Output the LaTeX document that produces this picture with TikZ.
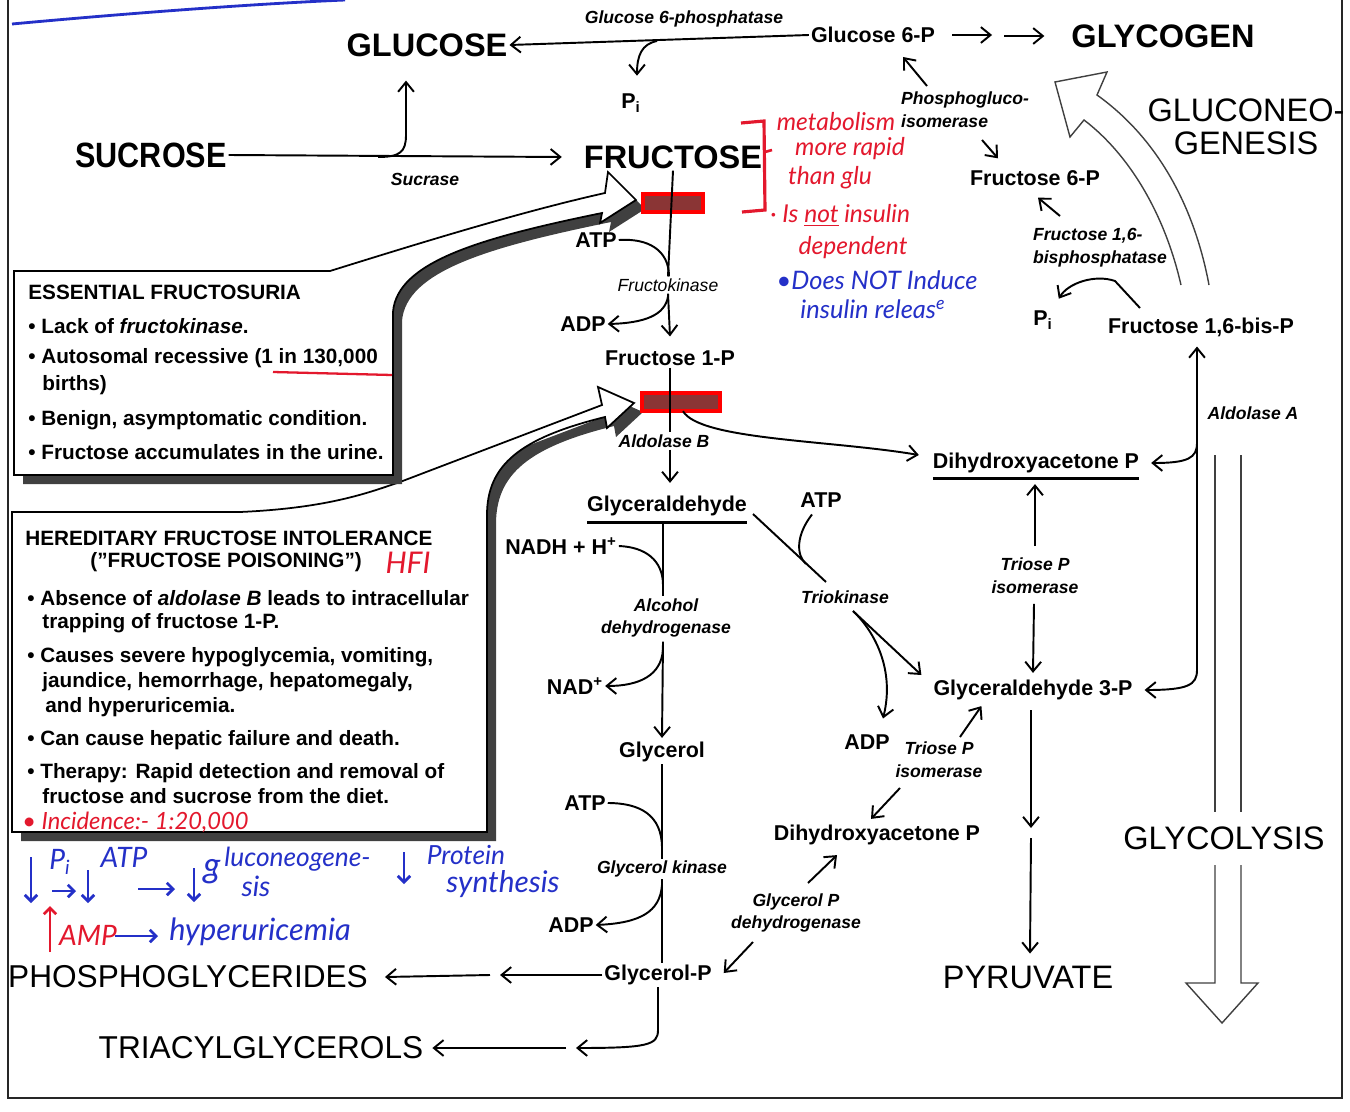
\documentclass[tikz,border=0pt]{standalone}
\usepackage{fontspec}
\setmainfont{Liberation Sans}
\newfontfamily\condfont{Liberation Sans}[FakeStretch=0.87]
\newfontfamily\handfont{Lato}
\usetikzlibrary{arrows.meta,calc}
\definecolor{pen}{HTML}{E3182D}
\definecolor{bpen}{HTML}{2430C8}
\definecolor{blkin}{HTML}{8A3535}
\begin{document}
\begin{tikzpicture}[x=0.02cm,y=0.02cm,
  arr/.style={-{Straight Barb[length=5.5pt,width=9pt]}, line width=1.1pt},
  ln/.style={line width=1.1pt},
  harr/.style={-{Straight Barb[length=3.5pt,width=7pt]}, line width=1.6pt},
  big/.style={font=\fontsize{18.5}{22}\selectfont\bfseries, inner sep=1pt},
  bigr/.style={font=\fontsize{18.5}{19}\selectfont, inner sep=1pt, align=center},
  mid/.style={font=\fontsize{12.2}{14}\selectfont\bfseries, inner sep=1pt},
  enz/.style={font=\fontsize{10}{13}\selectfont\bfseries\itshape, inner sep=1pt, align=center},
  boxt/.style={font=\fontsize{11.8}{14}\selectfont\bfseries, inner sep=0pt, anchor=west},
  hand/.style={font=\handfont\itshape\fontsize{14}{16}\selectfont, inner sep=0pt},
  bhand/.style={font=\handfont\itshape\fontsize{16}{18}\selectfont, inner sep=0pt, text=bpen},
  blocker/.style={draw=red, line width=2.5pt, fill=blkin, minimum height=0.36cm, inner sep=0pt},
  hollow/.style={line width=0.8pt, black!75},
]
\fill[white] (0,0) rectangle (1350,-1112);
\useasboundingbox (0,0) rectangle (1350,-1112);

% frame and top pen line
\draw[line width=1.2pt, black!85] (8,0) -- (8,-1098) -- (1342,-1098) -- (1342,0);
\draw[bpen, line width=1.6pt] (12,-24) .. controls (120,-14) and (250,-4) .. (345,0);

% HFI box with its big arrow
\fill[black!75, shift={(9,-9)}] (240,-512) .. controls (330,-508) and (370,-492) .. (400,-482) -- (602,-405) -- (598,-387) -- (634,-403) -- (607,-428) -- (605,-417) .. controls (520,-438) and (487,-465) .. (487,-515) -- (487,-832) -- (12,-832) -- (12,-512) -- cycle;
\draw[fill=white, line width=1pt] (240,-512) .. controls (330,-508) and (370,-492) .. (400,-482) -- (602,-405) -- (598,-387) -- (634,-403) -- (607,-428) -- (605,-417) .. controls (520,-438) and (487,-465) .. (487,-515) -- (487,-832) -- (12,-832) -- (12,-512) -- cycle;

% Essential fructosuria box with its big arrow
\fill[black!75, shift={(9,-9)}] (330,-271) .. controls (420,-243) and (520,-212) .. (605,-193) -- (608,-172) -- (636,-200) -- (600,-223) -- (602,-213) .. controls (480,-238) and (397,-262) .. (393,-312) -- (393,-475) -- (14,-475) -- (14,-271) -- cycle;
\draw[fill=white, line width=1pt] (330,-271) .. controls (420,-243) and (520,-212) .. (605,-193) -- (608,-172) -- (636,-200) -- (600,-223) -- (602,-213) .. controls (480,-238) and (397,-262) .. (393,-312) -- (393,-475) -- (14,-475) -- (14,-271) -- cycle;

% box texts
\node[boxt] (ef) at (28,-292) {ESSENTIAL FRUCTOSURIA};
\node[boxt] (ef1) at (28,-326) {\textbullet\ Lack of \textit{fructokinase}.};
\node[boxt] (ef2) at (28,-358) {\textbullet\ Autosomal recessive (1 in 130,000};
\node[boxt] (ef2b) at (42,-385) {births)};
\node[boxt] (ef3) at (28,-420) {\textbullet\ Benign, asymptomatic condition.};
\node[boxt] (ef4) at (28,-452) {\textbullet\ Fructose accumulates in the urine.};
\draw[pen, line width=1.3pt] (273,-372) -- (392,-375);

\node[boxt] (hf) at (25,-538) {HEREDITARY FRUCTOSE INTOLERANCE};
\node[boxt] (hf0) at (90,-562) {("FRUCTOSE POISONING")};
\node[hand, text=pen, font=\handfont\itshape\fontsize{17}{19}\selectfont] (hfi) at (408,-563) {HFI};
\node[boxt] (hf1) at (27,-598) {\textbullet\ Absence of \textit{aldolase B} leads to intracellular};
\node[boxt] (hf1b) at (42,-623) {trapping of fructose 1-P.};
\node[boxt] (hf2) at (27,-657) {\textbullet\ Causes severe hypoglycemia, vomiting,};
\node[boxt] (hf2b) at (42,-682) {jaundice, hemorrhage, hepatomegaly,};
\node[boxt] (hf2c) at (45,-707) {and hyperuricemia.};
\node[boxt] (hf3) at (27,-740) {\textbullet\ Can cause hepatic failure and death.};
\node[boxt] (hf4) at (27,-773) {\textbullet\ Therapy: Rapid detection and removal of};
\node[boxt] (hf4b) at (42,-796) {fructose and sucrose from the diet.};
\node[hand, text=pen, anchor=west, font=\handfont\itshape\fontsize{13.5}{15}\selectfont] (inc) at (22,-822) {\textbullet\ Incidence:- 1:20,000};

% pathway nodes
\node[big] (glucose) at (427,-45) {GLUCOSE};
\node[big, font=\condfont\fontsize{20}{24}\selectfont\bfseries] (sucrose) at (151,-155) {SUCROSE};
\node[big] (fructose) at (673,-157) {FRUCTOSE};
\node[big] (glycogen) at (1163,-36) {GLYCOGEN};
\node[mid] (g6p) at (873,-35) {Glucose 6-P};
\node[enz] (g6pase) at (684,-19) {Glucose 6-phosphatase};
\node[mid] (pi1) at (631,-103) {P\textsubscript{i}};
\node[enz] (sucrase) at (425,-179) {Sucrase};
\node[bigr] (gng) at (1246,-127) {GLUCONEO-\\GENESIS};
\node[enz, align=left, anchor=west] (pgi) at (899,-110) {Phosphogluco-\\isomerase};
\node[mid] (f6p) at (1035,-178) {Fructose 6-P};
\node[enz, align=left, anchor=west] (fbpase) at (1031,-248) {Fructose 1,6-\\bisphosphatase};
\node[mid] (pi2) at (1043,-320) {P\textsubscript{i}};
\node[mid] (f16bp) at (1201,-327) {Fructose 1,6-bis-P};
\node[enz] (aldA) at (1253,-413) {Aldolase A};
\node[mid] (dhap1) at (1036,-463) {Dihydroxyacetone P};
\node[enz] (tpi1) at (1035,-576) {Triose P\\isomerase};
\node[mid] (g3p) at (1033,-690) {Glyceraldehyde 3-P};
\node[bigr] (glycolysis) at (1224,-838) {GLYCOLYSIS};
\node[bigr] (pyruvate) at (1028,-977) {PYRUVATE};
\node[blocker, minimum width=1.2cm] (blk1) at (673,-203) {};
\node[blocker, minimum width=1.56cm] (blk2) at (681,-402) {};
\node[mid] (atp1) at (596,-240) {ATP};
\node[enz, font=\fontsize{10}{13}\selectfont\itshape] (fk) at (668,-285) {Fructokinase};
\node[mid] (adp1) at (583,-324) {ADP};
\node[mid] (f1p) at (670,-358) {Fructose 1-P};
\node[enz] (aldB) at (664,-441) {Aldolase B};
\node[mid] (glyald) at (667,-506) {Glyceraldehyde};
\node[mid] (nadh) at (561,-546) {NADH + H\textsuperscript{+}};
\node[enz] (adh) at (666,-618) {Alcohol\\dehydrogenase};
\node[mid] (nad) at (575,-686) {NAD\textsuperscript{+}};
\node[mid] (glycerol) at (662,-752) {Glycerol};
\node[mid] (atp3) at (585,-803) {ATP};
\node[enz] (gk) at (662,-869) {Glycerol kinase};
\node[mid] (adp3) at (571,-925) {ADP};
\node[mid] (glyp) at (658,-975) {Glycerol-P};
\node[bigr, font=\fontsize{18}{20}\selectfont] (phospho) at (188,-977) {PHOSPHOGLYCERIDES};
\node[bigr, font=\fontsize{18}{20}\selectfont] (triacyl) at (261,-1048) {TRIACYLGLYCEROLS};
\node[mid] (atp2) at (821,-500) {ATP};
\node[enz] (trio) at (845,-597) {Triokinase};
\node[mid] (adp2) at (867,-742) {ADP};
\node[enz] (tpi2) at (939,-760) {Triose P\\isomerase};
\node[mid] (dhap2) at (877,-835) {Dihydroxyacetone P};
\node[enz] (gpdh) at (796,-913) {Glycerol P\\dehydrogenase};

% top connectors
\draw[arr] (g6p.west) -- (glucose.east);
\coordinate (pj) at (657,-41);
\draw[arr] (pj) .. controls (642,-44) and (637,-55) .. ($(pi1.north)+(6,16)$);
\draw[arr] ($(g6p.east)+(15,0)$) -- ++(40,0);
\draw[arr] ($(glycogen.west)+(-65,0)$) -- ++(40,0);
\draw[arr] (sucrose.east) -- ($(fructose.west)+(-20,0)$);
\coordinate (sj) at (378,-157);
\draw[arr] (sj) .. controls (400,-157) and (406,-152) .. (406,-135) -- ($(glucose.south)+(-21,-22)$);

% fructose column
\draw[ln] (fructose.south) -- (fk.north);
\draw[ln] (atp1.east) .. controls (648,-238) and (669,-250) .. ($(fk.north)+(1,0)$);
\draw[arr] (fk.south) -- ($(f1p.north)+(0,12)$);
\draw[arr] ($(fk.south)+(0,-3)$) .. controls (665,-315) and (645,-323) .. (adp1.east);
\draw[ln] (f1p.south) -- (f1p.south |- aldB.north);
\draw[arr] (aldB.south -| f1p.south) -- ($(glyald.north -| f1p.south)+(0,11)$);
\draw[arr] ($(blk2.south)+(2,2)$) .. controls (700,-440) and (830,-440) .. ($(dhap1.west)+(-12,8)$);

% glyceraldehyde column
\draw[line width=1.6pt] ($(glyald.south west)+(2,-4)$) -- ($(glyald.south east)+(-2,-4)$);
\draw[ln] ($(glyald.south)+(-4,-5)$) -- ($(adh.north)+(-3,0)$);
\coordinate (j1) at (663,-585);
\draw[ln] (nadh.east) .. controls (645,-547) and (663,-560) .. (j1);
\coordinate (j2) at (663,-650);
\draw[arr] ($(adh.south)+(-3,-2)$) -- ($(glycerol.north)+(0,2)$);
\draw[arr] (j2) .. controls (661,-675) and (640,-686) .. (nad.east);
\draw[ln] (glycerol.south) -- (gk.north -| glycerol.south);
\coordinate (j3) at (662,-848);
\draw[ln] (atp3.east) .. controls (640,-803) and (662,-815) .. (j3);
\draw[ln] (gk.south -| glycerol.south) -- (glyp.north -| glycerol.south);
\coordinate (j4) at (662,-885);
\draw[arr] (j4) .. controls (660,-912) and (640,-923) .. (adp3.east);
\coordinate (pp1) at (500,-975);
\coordinate (pp2) at (490,-975);
\draw[arr] (glyp.west) -- (pp1);
\draw[arr] (pp2) -- ($(phospho.east)+(15,0)$);
\coordinate (tc1) at (658,-1030);
\coordinate (tc2) at (576,-1048);
\coordinate (tc3) at (566,-1048);
\draw[arr] (glyp.south) -- (tc1) .. controls (658,-1045) and (648,-1048) .. (tc2);
\draw[arr] (tc3) -- ($(triacyl.east)+(7,0)$);

% triokinase branch
\coordinate (d1) at (753,-514);
\coordinate (d2) at (826,-582);
\coordinate (d3) at (853,-611);
\coordinate (d4) at (806,-564);
\draw[ln] (d1) -- (d2);
\draw[ln] ($(atp2.south)+(-9,-5)$) .. controls (796,-535) and (796,-555) .. (d4);
\draw[arr] (d3) -- ($(g3p.west)+(-10,15)$);
\draw[arr] (d3) .. controls (875,-632) and (895,-670) .. ($(adp2.north)+(16,14)$);

% triose / aldolase A
\draw[arr] ($(tpi1.north)+(0,10)$) -- ($(dhap1.south)+(-1,-9)$);
\draw[arr] ($(tpi1.south)+(-1,-8)$) -- ($(g3p.north)+(0,5)$);
\draw[line width=1.6pt] ($(dhap1.south west)+(2,-3)$) -- ($(dhap1.south east)+(-2,-3)$);
\coordinate (a1) at (1197,-443);
\coordinate (a2) at (1197,-670);
\draw[arr] (a2) -- ($(f16bp.south)+(-4,-8)$);
\draw[arr] (a1) .. controls (1197,-458) and (1188,-463) .. ($(dhap1.east)+(10,0)$);
\draw[arr] (a2) .. controls (1197,-685) and (1188,-690) .. ($(g3p.east)+(10,0)$);

% gluconeogenic side
\coordinate (fb1) at (1140,-308);
\coordinate (fb2) at (1115,-281);
\draw[arr] (fb1) -- (fb2) .. controls (1095,-274) and (1068,-283) .. ($(pi2.north east)+(4,10)$);
\coordinate (fb3) at (1060,-216);
\draw[arr] (fb3) -- ($(f6p.south)+(3,-10)$);
\coordinate (pg1) at (927,-86);
\draw[arr] (pg1) -- ($(g6p.south)+(30,-12)$);
\coordinate (pg2) at (982,-140);
\draw[arr] (pg2) -- ($(f6p.north)+(-37,10)$);

% hollow arrows
\draw[hollow] (1181,-285) .. controls (1165,-215) and (1130,-155) .. (1084,-120) -- (1070,-137) -- (1055,-82) -- (1107,-72) -- (1097,-95) .. controls (1160,-140) and (1195,-210) .. (1209,-285);
\draw[hollow] (1215,-455) -- (1215,-812);
\draw[hollow] (1241,-455) -- (1241,-812);
\draw[hollow] (1215,-865) -- (1215,-983) -- (1186,-983) -- (1222,-1023) -- (1258,-983) -- (1241,-983) -- (1241,-865);

% glycolysis to pyruvate
\coordinate (py1) at (1031,-828);
\coordinate (py2) at (1031,-838);
\draw[arr] ($(g3p.south)+(-2,-8)$) -- (py1);
\draw[arr] (py2) -- ($(pyruvate.north)+(2,10)$);

% triose P isomerase / glycerol P dehydrogenase
\coordinate (tp1) at (960,-737);
\draw[arr] (tp1) -- ($(g3p.south west)+(50,-4)$);
\coordinate (tp2) at (900,-788);
\draw[arr] (tp2) -- ($(dhap2.north)+(-6,4)$);
\coordinate (gp1) at (808,-883);
\draw[arr] (gp1) -- ($(dhap2.south)+(-40,-8)$);
\coordinate (gp2) at (753,-942);
\draw[arr] (gp2) -- ($(glyp.east)+(10,2)$);

% red notes near fructose
\draw[pen, line width=1.8pt] (741,-123) -- (764,-121) -- (765,-210) -- (742,-212);
\draw[pen, line width=1.5pt] (765,-152) -- (772,-150);
\node[hand, text=pen] (n1) at (836,-122) {metabolism};
\node[hand, text=pen] (n2) at (850,-149) {more rapid};
\node[hand, text=pen] (n3) at (830,-178) {than glu};
\node[hand, text=pen, anchor=west] (n4) at (770,-215) {· Is \underline{not} insulin};
\node[hand, text=pen] (n5) at (853,-248) {dependent};
\node[hand, text=bpen, font=\handfont\itshape\fontsize{14.5}{16}\selectfont] (n6) at (877,-280) {\textbullet Does NOT Induce};
\node[hand, text=bpen, font=\handfont\itshape\fontsize{14.5}{16}\selectfont] (n7) at (873,-309) {insulin releas\textsuperscript{e}};

% blue notes at bottom left
\draw[harr, bpen] (31,-857) -- (31,-903);
\node[bhand] (b1) at (60,-862) {P\textsubscript{i}};
\draw[harr, bpen] (52,-891) -- (76,-891);
\draw[harr, bpen] (88,-870) -- (88,-903);
\node[bhand] (b2) at (124,-857) {ATP};
\draw[harr, bpen] (138,-889) -- (175,-889);
\draw[harr, bpen] (194,-868) -- (194,-902);
\node[bhand, font=\handfont\itshape\fontsize{20}{22}\selectfont] (b3) at (212,-872) {g};
\node[bhand, anchor=west, font=\handfont\itshape\fontsize{15}{17}\selectfont] (b4) at (224,-859) {luconeogene-};
\node[bhand] (b5) at (256,-886) {sis};
\draw[harr, bpen] (404,-852) -- (404,-884);
\node[bhand, font=\handfont\itshape\fontsize{15}{17}\selectfont] (b6) at (466,-855) {Protein};
\node[bhand, font=\handfont\itshape\fontsize{17}{19}\selectfont] (b7) at (503,-884) {synthesis};
\draw[harr, pen] (50,-952) -- (50,-906);
\node[bhand, text=pen] (b8) at (88,-935) {AMP};
\draw[harr, bpen] (115,-936) -- (158,-936);
\node[bhand, font=\handfont\itshape\fontsize{17.5}{20}\selectfont] (b9) at (260,-932) {hyperuricemia};
\end{tikzpicture}
\end{document}
